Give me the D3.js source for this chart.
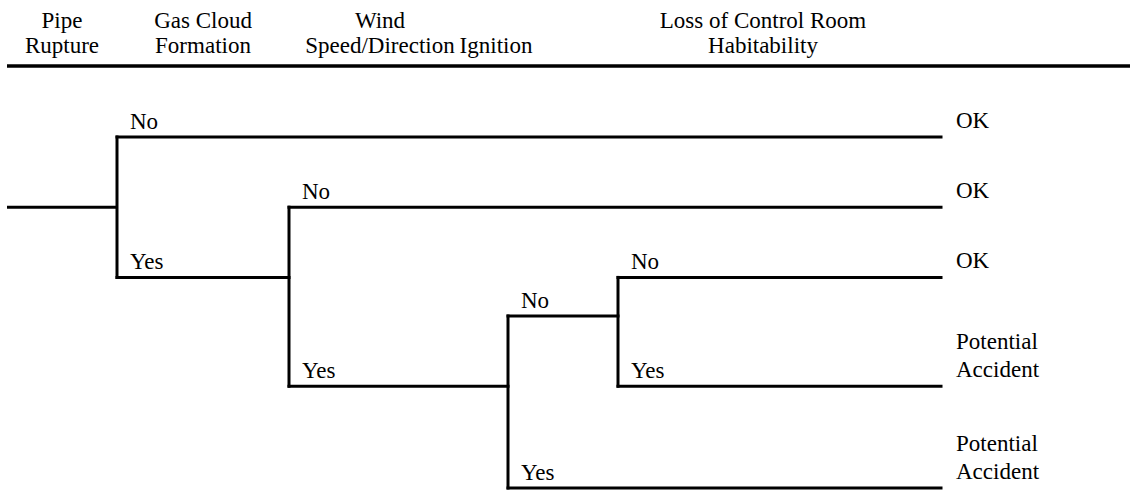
<!DOCTYPE html>
<html>
<head>
<meta charset="utf-8">
<script src="https://cdn.jsdelivr.net/npm/d3@7"></script>
</head>
<body style="margin:0">
<svg id="chart" width="1130" height="490"></svg>
<script>
// Column headings (event tree stages), one entry per line of text
const stages = ["Pipe Rupture", "Gas Cloud Formation", "Wind Speed/Direction", "Ignition", "Loss of Control Room Habitability"];
const headerLines = [
    ["Pipe", "Rupture"],
    ["Gas Cloud", "Formation"],
    ["Wind", "Speed/Direction"],
    ["", "Ignition"],
    ["Loss of Control Room", "Habitability"]
];

// Branch points: stage where the question is asked, row it sits on, and rows of the No / Yes branches
const nodes = [
    { stage: "Gas Cloud Formation", row: 2, no: 0, yes: 4 },
    { stage: "Wind Speed/Direction", row: 4, no: 2, yes: 7.1 },
    { stage: "Ignition", row: 7.1, no: 5.1, yes: 10 },
    { stage: "Loss of Control Room Habitability", row: 5.1, no: 4, yes: 7.1 }
];

// End states
const outcomeRows = [0, 2, 4, 7.1, 10];
const outcomes = ["OK", "OK", "OK", "Potential Accident", "Potential Accident"];

const svg = d3.select("#chart");
const chartWidth = 1130;

// every text gets the serif face directly
function addText(g, x, yPos, t, anchor) {
    return g.append("text")
        .attr("x", x).attr("y", yPos)
        .attr("font-family", "Liberation Serif")
        .style("font-family", "Liberation Serif")
        .attr("font-size", 23)
        .attr("text-anchor", anchor || "start")
        .text(t);
}

// Scales
const headerX = d3.scaleOrdinal().domain(stages).range([62, 203, 380, 496, 763]);
const nodeX = d3.scaleOrdinal().domain(stages).range([7, 117, 289, 508, 618]);
const y = d3.scaleLinear().domain([0, 10]).range([137, 488]);
const endX = 941;

// Headings
headerLines.forEach((lines, i) => {
    lines.forEach((t, j) => {
        if (!t) return;
        addText(svg, headerX(stages[i]), 28 + j * 25, t, "middle");
    });
});

svg.append("line")
    .attr("x1", 7).attr("x2", chartWidth)
    .attr("y1", 66).attr("y2", 66)
    .attr("stroke", "#000").attr("stroke-width", 3.3);

// Tree lines
function seg(x1, y1, x2, y2, cap) {
    svg.append("line")
        .attr("x1", x1).attr("x2", x2)
        .attr("y1", y1).attr("y2", y2)
        .attr("stroke", "#000").attr("stroke-width", 3)
        .attr("stroke-linecap", cap || "square");
}

// Root line into first branch point
seg(nodeX(stages[0]), y(nodes[0].row), nodeX(nodes[0].stage), y(nodes[0].row), "butt");

nodes.forEach(n => {
    const x0 = nodeX(n.stage);
    const si = stages.indexOf(n.stage);
    seg(x0, y(n.no), x0, y(n.yes));

    [["No", n.no], ["Yes", n.yes]].forEach(([lab, r]) => {
        const child = nodes.find(c => stages.indexOf(c.stage) > si && c.row === r);
        const x1 = child ? nodeX(child.stage) : endX;
        seg(x0, y(r), x1, y(r));
        addText(svg, x0 + 13, y(r) - 8, lab);
    });
});

// Outcome labels
outcomes.forEach((o, i) => {
    const words = o.split(" ");
    words.forEach((w, j) => {
        addText(svg, endX + 15, y(outcomeRows[i]) - 9 - (words.length - 1 - j) * 28, w);
    });
});
</script>
</body>
</html>
